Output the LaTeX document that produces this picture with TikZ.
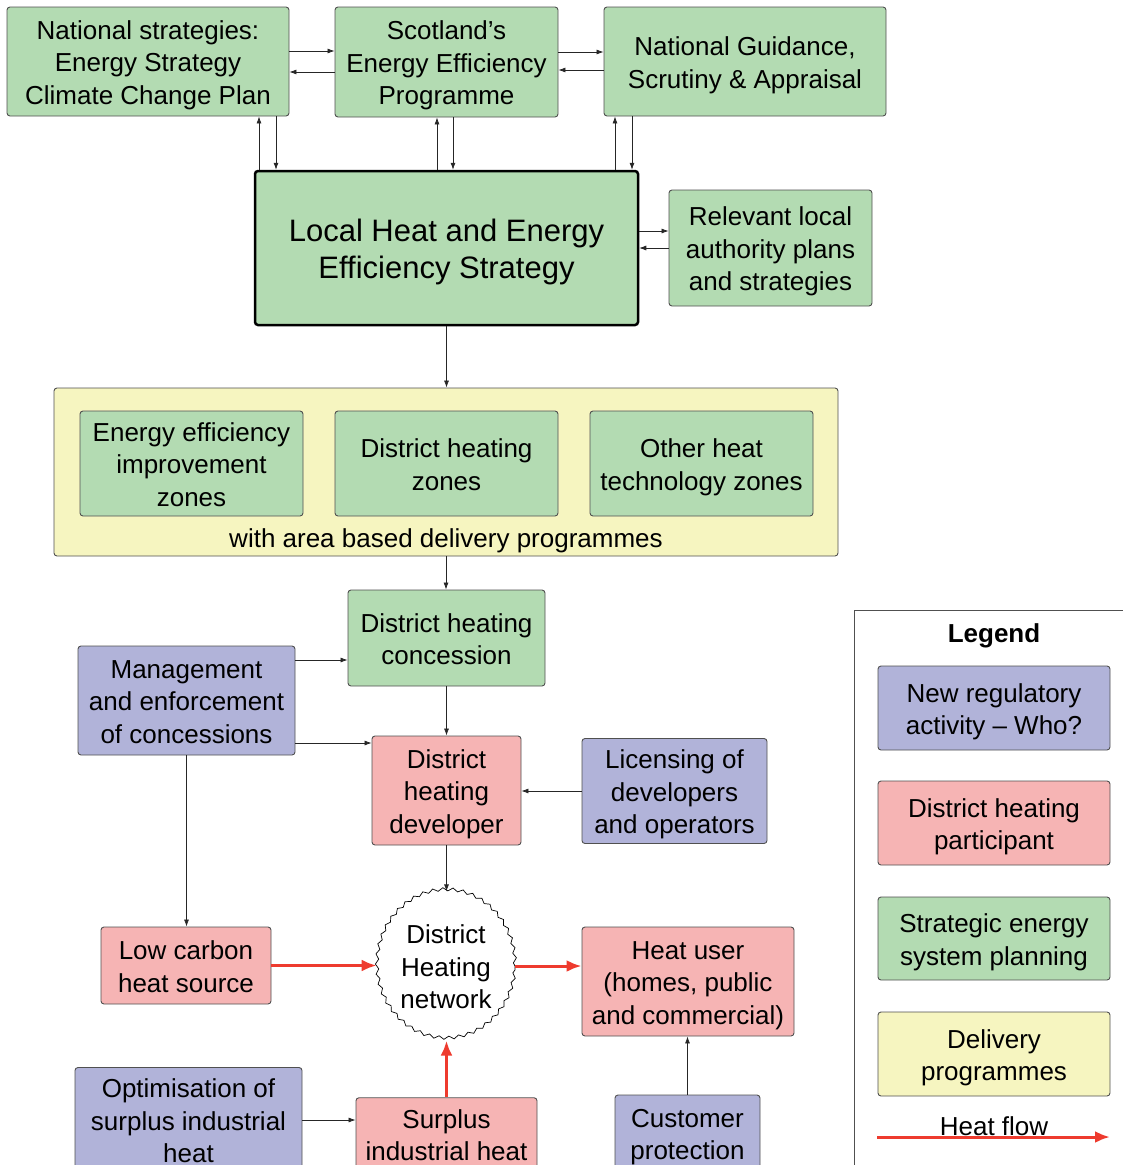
\documentclass[tikz,border=0pt]{standalone}
\usepackage{fontspec}
\setmainfont{Liberation Sans}
\usetikzlibrary{arrows.meta,shapes.geometric,decorations.pathmorphing,calc}
\definecolor{gfill}{RGB}{179,219,178}
\definecolor{bfill}{RGB}{177,179,217}
\definecolor{pfill}{RGB}{246,180,180}
\definecolor{yfill}{RGB}{246,245,192}
\definecolor{hred}{RGB}{238,59,46}
\definecolor{bord}{RGB}{80,80,80}
\newcommand\mytx[1]{\begin{tabular}{@{}c@{}}\rule{0pt}{30.25pt}#1\end{tabular}}
\newcommand\mybig[1]{\begin{tabular}{@{}c@{}}\rule{0pt}{35pt}#1\end{tabular}}
\begin{document}
\begin{tikzpicture}[x=1pt,y=-1pt,
  mainfont/.style={font=\fontsize{26}{32.5}\selectfont},
  box/.style={draw=bord, line width=0.9pt, rounded corners=3pt, inner sep=0pt, mainfont},
  gbox/.style={box, fill=gfill},
  bbox/.style={box, fill=bfill},
  pbox/.style={box, fill=pfill},
  ybox/.style={box, fill=yfill},
  sz/.style 2 args={minimum width=#1, minimum height=#2},
  txt/.style={inner sep=0pt, mainfont},
  arr/.style={-{Latex[length=7pt,width=5pt]}, line width=0.7pt, black!85},
  heat/.style={-{Latex[length=15pt,width=12pt]}, line width=3pt, hred},
  netnode/.style={draw=black, line width=0.7pt, ellipse, fill=white, minimum width=138pt, minimum height=148pt, inner sep=0pt, mainfont, decorate, decoration={snake, segment length=10pt, amplitude=1.6pt}},
]
\useasboundingbox (0,0) rectangle (1123,1165);
\clip (0,0) rectangle (1123,1165);

% top row
\node[gbox, sz={282pt}{109pt}] (ns) at (148,61.5) {\mytx{National strategies:\\Energy Strategy\\Climate Change Plan}};
\node[gbox, sz={223pt}{110pt}] (seep) at (446.5,62) {\mytx{Scotland’s\\Energy Efficiency\\Programme}};
\node[gbox, sz={282pt}{109pt}] (ng) at (745,61.5) {\mytx{National Guidance,\\Scrutiny \& Appraisal}};

% LHEES
\node[gbox, draw=black, line width=2.5pt, sz={383pt}{154pt}, font=\fontsize{31}{37}\selectfont] (lh) at (446.5,248) {\mybig{Local Heat and Energy\\Efficiency Strategy}};
\node[gbox, sz={203pt}{116pt}] (rl) at (770.5,248) {\mytx{Relevant local\\authority plans\\and strategies}};

% delivery programmes
\node[ybox, sz={784pt}{168pt}] (yb) at (446,472) {};
\node[gbox, sz={223pt}{105pt}] (ee) at (191.5,463.5) {\mytx{Energy efficiency\\improvement\\zones}};
\node[gbox, sz={223pt}{105pt}] (dz) at (446.5,463.5) {\mytx{District heating\\zones}};
\node[gbox, sz={223pt}{105pt}] (oz) at (701.5,463.5) {\mytx{Other heat\\technology zones}};
\node[txt] (yt) at (446,537) {\mytx{with area based delivery programmes}};

% lower part
\node[gbox, sz={197pt}{96pt}] (conc) at (446.5,638) {\mytx{District heating\\concession}};
\node[bbox, sz={217pt}{109pt}] (mg) at (186.5,700.5) {\mytx{Management\\and enforcement\\of concessions}};
\node[pbox, sz={149pt}{109pt}] (dev) at (446.5,790.5) {\mytx{District\\heating\\developer}};
\node[bbox, sz={185pt}{104pt}] (lic) at (674.5,791) {\mytx{Licensing of\\developers\\and operators}};
\node[netnode] (net) at (446,966) {\mytx{District\\Heating\\network}};
\node[pbox, sz={170pt}{77pt}] (lc) at (186,965.5) {\mytx{Low carbon\\heat source}};
\node[pbox, sz={212pt}{109pt}] (hu) at (688,981.5) {\mytx{Heat user\\(homes, public\\and commercial)}};
\node[bbox, sz={227pt}{102pt}] (opt) at (188.5,1120) {\mytx{Optimisation of\\surplus industrial\\heat}};
\node[pbox, sz={181pt}{72pt}] (sur) at (446.5,1134) {\mytx{Surplus\\industrial heat}};
\node[bbox, sz={145pt}{76pt}] (cp) at (687.5,1133) {\mytx{Customer\\protection}};

% legend
\draw[bord, line width=0.9pt] (854,1180) -- (854,610) -- (1135,610);
\node[txt, font=\bfseries\fontsize{26}{32.5}\selectfont] (lg) at (994,632) {\mytx{Legend}};
\node[bbox, sz={232pt}{84pt}] (l1) at (994,708) {\mytx{New regulatory\\activity – Who?}};
\node[pbox, sz={232pt}{84pt}] (l2) at (994,823) {\mytx{District heating\\participant}};
\node[gbox, sz={232pt}{83pt}] (l3) at (994,938.5) {\mytx{Strategic energy\\system planning}};
\node[ybox, sz={232pt}{84pt}] (l4) at (994,1054) {\mytx{Delivery\\programmes}};
\node[txt] (hf) at (994,1125) {\mytx{Heat flow}};
\coordinate (h1) at (877,1137);
\coordinate (h2) at (1110,1137);
\draw[heat] (h1) -- (h2);

% top horizontal arrows
\coordinate (a1) at ([yshift=10.5pt]ns.east);
\draw[arr] (a1) -- (a1 -| seep.west);
\coordinate (a2) at ([yshift=-10pt]seep.west);
\draw[arr] (a2) -- (a2 -| ns.east);
\coordinate (a3) at ([yshift=10pt]seep.east);
\draw[arr] (a3) -- (a3 -| ng.west);
\coordinate (a4) at ([yshift=-8.5pt]ng.west);
\draw[arr] (a4) -- (a4 -| seep.east);

% verticals to/from LHEES
\coordinate (v1) at ([xshift=111pt]ns.south);
\draw[arr] (v1 |- lh.north) -- (v1);
\coordinate (v2) at ([xshift=128pt]ns.south);
\draw[arr] (v2) -- (v2 |- lh.north);
\coordinate (v3) at ([xshift=-9.5pt]seep.south);
\draw[arr] (v3 |- lh.north) -- (v3);
\coordinate (v4) at ([xshift=6.5pt]seep.south);
\draw[arr] (v4) -- (v4 |- lh.north);
\coordinate (v5) at ([xshift=-130pt]ng.south);
\draw[arr] (v5 |- lh.north) -- (v5);
\coordinate (v6) at ([xshift=-113pt]ng.south);
\draw[arr] (v6) -- (v6 |- lh.north);

% LHEES <-> relevant local
\coordinate (r1) at ([yshift=17pt]lh.east);
\draw[arr] (r1) -- (r1 -| rl.west);
\draw[arr] (rl.west) -- (rl.west -| lh.east);

% flow down
\draw[arr] (lh.south) -- (lh.south |- yb.north);
\draw[arr] (yb.south) -- (yb.south |- conc.north);
\coordinate (m1) at ([yshift=40.5pt]mg.east);
\draw[arr] (m1) -- (m1 -| conc.west);
\coordinate (m2) at ([yshift=-42.5pt]mg.east);
\draw[arr] (m2) -- (m2 -| dev.west);
\draw[arr] (mg.south) -- (mg.south |- lc.north);
\draw[arr] (conc.south) -- (conc.south |- dev.north);
\draw[arr] (lic.west) -- (lic.west -| dev.east);
\draw[arr] (dev.south) -- (dev.south |- net.north);
\draw[heat] (lc.east) -- (lc.east -| net.west);
\draw[heat] (net.east) -- (net.east -| hu.west);
\draw[heat] (sur.north) -- (sur.north |- net.south);
\draw[arr] (cp.north) -- (cp.north |- hu.south);
\draw[arr] (opt.east) -- (opt.east -| sur.west);
\end{tikzpicture}
\end{document}
